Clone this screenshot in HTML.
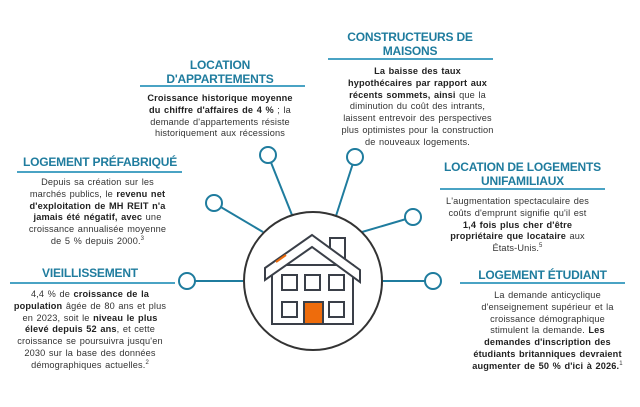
<!DOCTYPE html>
<html><head><meta charset="utf-8"><style>
body{margin:0;width:640px;height:407px;background:#fff;position:relative;overflow:hidden;font-family:"Liberation Sans",sans-serif}
.h{position:absolute;color:#1f7c9e;font-weight:bold;font-size:12px;line-height:14px;text-align:center;letter-spacing:-0.2px;white-space:nowrap}
.u{position:absolute;height:1.5px;background:#4aa3c4}
.b{position:absolute;color:#333;font-size:9.2px;line-height:11.8px;text-align:center;white-space:nowrap;letter-spacing:0.15px;word-spacing:0.8px}
.b b{color:#222}
sup{font-size:6px;line-height:0}
</style></head><body>
<svg width="640" height="407" style="position:absolute;left:0;top:0">
<g stroke="#1f7c9e" stroke-width="2" fill="#fff">
<line x1="268" y1="155" x2="292" y2="215"/>
<line x1="355" y1="157" x2="335" y2="219"/>
<line x1="214" y1="203" x2="263" y2="232"/>
<line x1="413" y1="217" x2="362" y2="232"/>
<line x1="187" y1="281" x2="243" y2="281"/>
<line x1="433" y1="281" x2="383" y2="281"/>
<circle cx="268" cy="155" r="8"/>
<circle cx="355" cy="157" r="8"/>
<circle cx="214" cy="203" r="8"/>
<circle cx="413" cy="217" r="8"/>
<circle cx="187" cy="281" r="8"/>
<circle cx="433" cy="281" r="8"/>
</g>
<circle cx="313" cy="281" r="69" fill="#fff" stroke="#333" stroke-width="2"/>
<g stroke="#3a3f48" stroke-width="2" fill="#fff">
<rect x="272" y="265" width="81" height="59"/>
<rect x="330" y="238" width="15" height="20"/>
<polygon points="265,268 312,235 360,270 360,282 312,247 265,280"/>
<rect x="282" y="275" width="15" height="15"/>
<rect x="305" y="275" width="15" height="15"/>
<rect x="329" y="275" width="15" height="15"/>
<rect x="282" y="302" width="15" height="15"/>
<rect x="329" y="302" width="15" height="15"/>
<rect x="304" y="302" width="19" height="22" fill="#ee6c0c"/>
</g>
<line x1="276" y1="262" x2="286" y2="255" stroke="#ee6c0c" stroke-width="2"/>
</svg>

<div class="h" style="left:130px;top:58px;width:180px">LOCATION<br>D'APPARTEMENTS</div>
<div class="u" style="left:140px;top:85px;width:165px"></div>
<div class="b" style="left:130px;top:93px;width:180px"><b>Croissance historique moyenne</b><br><b>du chiffre d'affaires de 4 %</b> ; la<br>demande d'appartements résiste<br>historiquement aux récessions</div>

<div class="h" style="left:320px;top:30px;width:180px">CONSTRUCTEURS DE<br>MAISONS</div>
<div class="u" style="left:328px;top:58px;width:165px"></div>
<div class="b" style="left:330px;top:66px;width:175px"><b>La baisse des taux</b><br><b>hypothécaires par rapport aux</b><br><b>récents sommets, ainsi</b> que la<br>diminution du coût des intrants,<br>laissent entrevoir des perspectives<br>plus optimistes pour la construction<br>de nouveaux logements.</div>

<div class="h" style="left:10px;top:155px;width:180px">LOGEMENT PRÉFABRIQUÉ</div>
<div class="u" style="left:17px;top:171px;width:165px"></div>
<div class="b" style="left:15px;top:177px;width:165px">Depuis sa création sur les<br>marchés publics, le <b>revenu net</b><br><b>d'exploitation de MH REIT n'a</b><br><b>jamais été négatif, avec</b> une<br>croissance annualisée moyenne<br>de 5 % depuis 2000.<sup>3</sup></div>

<div class="h" style="left:0px;top:266px;width:180px">VIEILLISSEMENT</div>
<div class="u" style="left:10px;top:282px;width:165px"></div>
<div class="b" style="left:10px;top:289px;width:160px">4,4 % de <b>croissance de la</b><br><b>population</b> âgée de 80 ans et plus<br>en 2023, soit le <b>niveau le plus</b><br><b>élevé depuis 52 ans</b>, et cette<br>croissance se poursuivra jusqu'en<br>2030 sur la base des données<br>démographiques actuelles.<sup>2</sup></div>

<div class="h" style="left:430px;top:160px;width:185px">LOCATION DE LOGEMENTS<br>UNIFAMILIAUX</div>
<div class="u" style="left:440px;top:188px;width:165px"></div>
<div class="b" style="left:440px;top:196px;width:155px">L'augmentation spectaculaire des<br>coûts d'emprunt signifie qu'il est<br><b>1,4 fois plus cher d'être</b><br><b>propriétaire que locataire</b> aux<br>États-Unis.<sup>5</sup></div>

<div class="h" style="left:455px;top:268px;width:175px">LOGEMENT ÉTUDIANT</div>
<div class="u" style="left:460px;top:282px;width:165px"></div>
<div class="b" style="left:470px;top:290px;width:155px">La demande anticyclique<br>d'enseignement supérieur et la<br>croissance démographique<br>stimulent la demande. <b>Les</b><br><b>demandes d'inscription des</b><br><b>étudiants britanniques devraient</b><br><b>augmenter de 50 % d'ici à 2026.</b><sup>1</sup></div>
</body></html>
